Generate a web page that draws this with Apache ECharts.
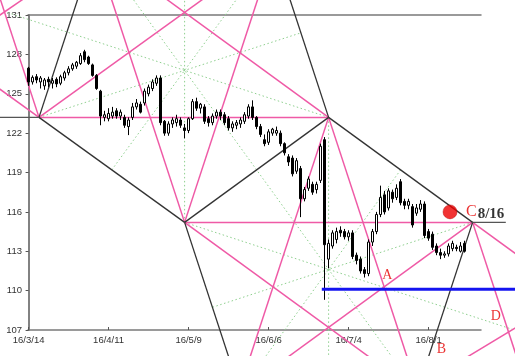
<!DOCTYPE html>
<html><head><meta charset="utf-8">
<script src="https://cdn.jsdelivr.net/npm/echarts@6/dist/echarts.min.js"></script>
<style>html,body{margin:0;padding:0;background:#fff}#c{width:515px;height:356px}</style>
</head><body><div id="c"></div>
<script>
// ---- tick labels ----
const xTickIdx = [0, 20, 40, 60, 80, 100];
const xTickLabels = ['16/3/14', '16/4/11', '16/5/9', '16/6/6', '16/7/4', '16/8/1'];
const yTicks = [107, 110, 113, 116, 119, 122, 125, 128, 131];

// ---- daily candles (trading-day index 0 = 16/3/14) ----
const opens  = [126.95,125.9,126.3,125.9,125.6,126.1,125.8,126.1,125.8,126.2,126.6,126.9,127.1,127.3,128.2,127.8,127.2,126.4,125.2,123.2,
  123.1,123.3,123.7,123.3,123.2,122.5,123.2,124.0,124.2,124.3,125.0,125.4,125.8,126.2,122.9,122.0,122.7,122.8,123.0,122.4,
  122.2,123.1,124.4,123.9,124.0,123.1,122.8,123.3,123.6,123.4,123.1,122.4,122.6,122.7,122.9,123.3,124.0,123.2,122.5,121.5,
  121.3,122.0,122.0,122.0,121.2,120.2,120.1,119.1,119.3,117.0,117.8,118.1,117.7,118.4,121.5,112.4,113.4,113.9,114.6,114.5,
  114.1,114.4,112.7,112.4,111.6,111.3,113.7,114.5,115.8,117.3,116.3,117.5,117.1,118.3,116.8,116.5,116.4,115.9,116.2,116.6,
  114.5,114.3,113.4,112.9,112.7,112.8,113.2,113.3,113.0,113.6];
const closes = [125.9,126.25,126.05,126.2,126.05,125.9,126.0,125.75,126.3,126.6,126.9,127.2,127.4,127.9,127.6,127.3,126.4,125.4,123.3,123.4,
  123.5,123.6,123.3,123.6,122.6,123.0,124.0,124.3,123.6,125.2,125.5,125.9,126.2,122.8,122.0,122.7,123.0,123.1,122.6,122.2,
  123.1,124.4,123.9,124.2,122.9,122.8,123.3,123.6,123.3,122.8,122.4,122.7,122.8,123.0,123.4,124.0,123.2,122.5,121.9,121.2,
  122.1,122.3,122.2,121.2,120.5,119.8,118.9,119.9,117.0,117.7,118.5,117.5,118.1,121.0,113.5,113.6,114.4,114.5,114.4,114.1,
  114.4,112.6,112.3,111.5,111.3,113.7,114.5,115.8,117.1,116.0,117.6,117.0,117.8,116.7,116.5,116.8,115.0,116.3,116.6,114.2,
  114.0,113.3,112.9,112.7,112.8,113.4,113.6,113.2,113.4,113.0];
const lows   = [125.6,125.7,125.8,125.4,125.3,125.5,125.4,125.5,125.65,126.0,126.4,126.75,126.9,127.2,127.4,127.2,126.3,125.3,122.6,122.9,
  122.9,123.1,123.1,123.0,122.4,121.85,123.0,123.8,123.5,124.1,124.8,125.2,125.6,122.6,121.8,121.8,122.4,122.5,122.4,121.6,
  122.0,123.0,123.7,123.5,122.7,122.5,122.6,123.1,123.0,122.6,122.2,122.1,122.3,122.4,122.7,123.1,123.0,122.3,121.7,121.0,
  121.1,121.8,121.8,121.0,120.3,119.5,118.7,118.9,115.6,116.8,117.6,117.3,117.4,118.2,109.3,111.7,113.2,113.6,114.1,113.9,
  113.8,112.4,112.0,111.3,111.0,111.1,113.4,114.3,115.6,115.8,116.1,116.7,116.9,116.5,116.2,116.2,114.8,115.7,116.0,114.0,
  113.8,113.1,112.7,112.4,112.5,112.6,113.0,113.0,112.9,112.9];
const highs  = [127.05,126.4,126.5,126.35,126.2,126.3,126.2,126.25,126.45,126.75,127.1,127.35,127.5,128.1,128.35,127.9,127.3,126.5,125.3,123.7,
  123.9,124.0,123.9,123.8,123.4,123.2,124.3,124.6,124.4,125.4,125.7,126.1,126.4,126.4,123.0,122.9,123.2,123.4,123.2,122.7,
  123.2,124.6,124.7,124.3,124.2,123.3,123.5,123.8,123.8,123.6,123.3,122.9,123.0,123.2,123.6,124.2,124.5,123.3,122.7,121.9,
  122.3,122.4,122.5,122.2,121.3,120.4,120.3,120.1,119.5,117.9,118.7,118.3,118.3,121.2,121.7,113.9,114.6,114.8,114.9,114.7,
  114.6,114.6,112.9,112.6,111.8,113.9,114.7,116.0,118.0,117.6,117.8,117.7,118.1,118.5,117.0,117.0,116.6,116.6,116.9,116.8,
  114.7,114.5,113.6,113.2,113.0,113.6,113.8,113.5,113.7,113.8];

// ---- pivots / construction points (trading-day index, price) ----
const pivotIdx   = [2.6, 39, 75, 111];
const pivotPrice = [123.2, 115.2, 123.2, 115.2];
const apexTop    = [39, 131.2];
const apexBottom = [75, 107.2];
const fanCenterIdx   = [39, 75];
const fanCenterPrice = [126.78, 111.62];
const supportLevel = 110.1;
const supportStartIdx = 73.3;
const markerIdx = 105.35, markerPrice = 116.0;
const labelTexts = ['A', 'B', 'C', 'D', '8/16'];
const labelIdx   = [89.7, 103.2, 110.7, 116.8, 115.6];
const labelPrice = [111.15, 105.53, 115.99, 108.06, 115.8];
const underlineEndIdx = 119.3;
const cornerLines = [[[-7.15, 131.0], [-1.7, 132.14]], [[110.5, 105.1], [118.85, 106.64]]];
const STEEP = 0.93;

const P1 = [pivotIdx[0], pivotPrice[0]], P2 = [pivotIdx[1], pivotPrice[1]],
      P3 = [pivotIdx[2], pivotPrice[2]], PC = [pivotIdx[3], pivotPrice[3]];
const T = apexTop, B = apexBottom;
const G1 = [fanCenterIdx[0], fanCenterPrice[0]], G2 = [fanCenterIdx[1], fanCenterPrice[1]];
const lerp = (a, b, t) => [a[0] + (b[0] - a[0]) * t, a[1] + (b[1] - a[1]) * t];
const ext = (a, b, t0, t1) => [lerp(a, b, t0), lerp(a, b, t1)];
const ray = (p, dx, dy, len) => [p, [p[0] + dx * len, p[1] + dy * len]];
const mid = (a, b) => lerp(a, b, 0.5);

const greenSegs = [
  ext(P1, G1, 0, (68 - P1[0]) / (G1[0] - P1[0])),
  ext(P3, G1, 0, (P3[0] + 5.6) / (P3[0] - G1[0])),
  [P2, [G1[0], 134]],
  ext(G1, G2, -0.5, 1.5),
  ext(mid(P1, P2), G1, 0, 2.4),
  ext(PC, G2, 0, (PC[0] - 46) / (PC[0] - G2[0])),
  ext(P2, G2, 0, 2.4),
  [P3, [G2[0], 104]],
  ext(mid(P3, PC), G2, 0, 2.4)
];
const pinkSegs = [
  [P1, P3], [P2, PC],
  ext(P1, T, 0, 3), ext(PC, B, 0, 3),
  ext(P1, P2, -3, 0), ext(P2, B, 0, 3),
  ext(T, P3, -3, 1), ext(P3, PC, 1, 4),
  ray(P1, -1, STEEP, 20), ray(P2, -1, STEEP, 20), ray(P2, 1, STEEP, 20),
  ray(P3, -1, -STEEP, 20), ray(P3, 1, -STEEP, 20), ray(PC, 1, -STEEP, 20),
  ext(cornerLines[0][0], cornerLines[0][1], -1, 2), ext(cornerLines[1][0], cornerLines[1][1], -0.5, 2)
];
const blackSegs = [
  [P1, P2], [P2, P3], [P3, PC],
  ray(P1, 1, STEEP, 20), ray(P2, 1, -STEEP, 20), ray(P3, -1, STEEP, 20), ray(PC, -1, -STEEP, 20)
];
const darkSegs = [ray(P1, -1, 0, 20), [PC, [underlineEndIdx, PC[1]]]];
const blueSegs = [[[supportStartIdx, supportLevel], [130, supportLevel]]];

// segments drawn through the axes' scales (api.coord), not clipped to the grid
function segSeries(segs, color, width, dash, z) {
  return {
    type: 'custom', coordinateSystem: 'cartesian2d', clip: false, silent: true, animation: false, z: z,
    encode: { x: [0, 2], y: [1, 3] },
    data: segs.map(s => [s[0][0], s[0][1], s[1][0], s[1][1]]),
    renderItem: (params, api) => {
      const a = api.coord([api.value(0), api.value(1)]);
      const b = api.coord([api.value(2), api.value(3)]);
      return { type: 'line', shape: { x1: a[0], y1: a[1], x2: b[0], y2: b[1] },
        style: { stroke: color, lineWidth: width, lineDash: dash || null, fill: null } };
    }
  };
}

const series = [
  segSeries(greenSegs, '#8fd08f', 1, [1.5, 2.5], 1),
  segSeries(pinkSegs, '#ef5aa6', 1.5, null, 2),
  segSeries(blackSegs, '#333333', 1.3, null, 2),
  segSeries(darkSegs, '#555555', 1.3, null, 2),
  {
    type: 'candlestick', z: 3, animation: false, barWidth: 3, clip: false,
    data: opens.map((o, i) => [i, o, closes[i], lows[i], highs[i]]),
    itemStyle: { color: '#ffffff', color0: '#000000', borderColor: '#000000', borderColor0: '#000000', borderWidth: 1 }
  },
  segSeries(blueSegs, '#1414f0', 3, null, 4),
  {
    type: 'scatter', z: 5, animation: false, silent: true, clip: false, symbolSize: 14,
    data: [[markerIdx, markerPrice]],
    itemStyle: { color: '#ee0000', borderColor: '#b00000', borderWidth: 0.5 }
  },
  {
    type: 'scatter', z: 6, animation: false, silent: true, clip: false, symbolSize: 1,
    itemStyle: { color: 'rgba(0,0,0,0)' },
    data: labelTexts.map((t, i) => ({
      value: [labelIdx[i], labelPrice[i]],
      label: {
        show: true, position: 'inside', formatter: t,
        fontFamily: 'Liberation Serif',
        fontSize: t === 'C' ? 16 : (t === '8/16' ? 15 : 14),
        fontWeight: t === '8/16' ? 'bold' : 'normal',
        color: t === '8/16' ? '#000' : '#e60000'
      }
    }))
  }
];

const frame = { show: true, lineStyle: { color: '#7a7a7a', width: 1.5 } };
const chart = echarts.init(document.getElementById('c'), null, { renderer: 'canvas' });
chart.setOption({
  backgroundColor: '#fff',
  animation: false,
  grid: { left: 28, right: 34, top: 15, bottom: 26, containLabel: false },
  xAxis: [{
    type: 'value', min: -0.15, max: 113.1, axisLine: frame,
    splitLine: { show: false },
    axisTick: { show: true, inside: true, length: 3, customValues: xTickIdx, lineStyle: { color: '#555' } },
    axisLabel: { show: true, customValues: xTickIdx, margin: 5, color: '#333', fontSize: 9.5, fontFamily: 'Liberation Sans',
      formatter: v => { const k = xTickIdx.indexOf(v); return k >= 0 ? xTickLabels[k] : ''; } }
  }, {
    type: 'value', position: 'top', min: -0.15, max: 113.1, axisLine: frame,
    splitLine: { show: false }, axisTick: { show: false }, axisLabel: { show: false }
  }],
  yAxis: [{
    type: 'value', min: 107, max: 131, axisLine: frame, splitLine: { show: false },
    axisTick: { show: false },
    axisLabel: { show: true, customValues: yTicks, margin: 6, color: '#333', fontSize: 9.5, fontFamily: 'Liberation Sans' }
  }, {
    type: 'value', position: 'right', min: 107, max: 131, axisLine: frame, splitLine: { show: false },
    axisTick: { show: true, inside: true, length: 3, customValues: yTicks, lineStyle: { color: '#555' } },
    axisLabel: { show: false }
  }],
  series: series
});
</script>
</body></html>
